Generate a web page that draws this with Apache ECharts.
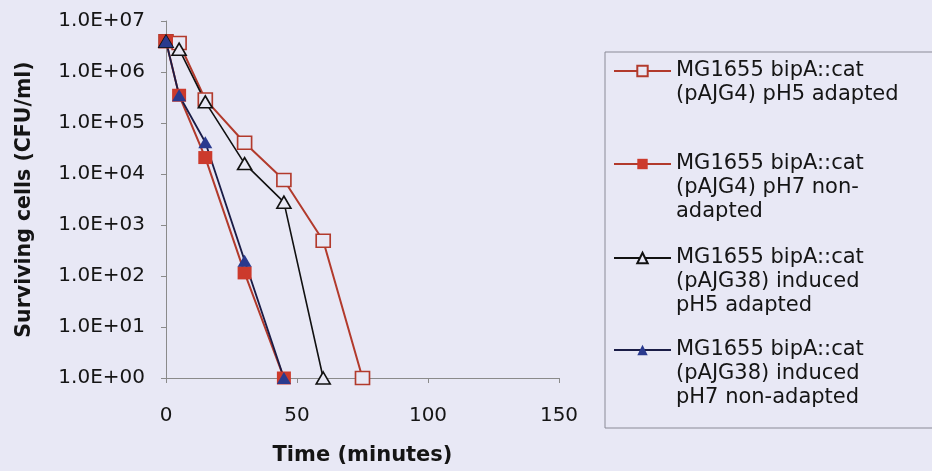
<!DOCTYPE html>
<html>
<head>
<meta charset="utf-8">
<script src="https://cdn.jsdelivr.net/npm/echarts@6/dist/echarts.min.js"></script>
<style>
  html, body { margin: 0; padding: 0; background: #e8e8f5; }
  #chart { width: 932px; height: 471px; }
</style>
</head>
<body>
<div id="chart"></div>
<script>
// ---- data ----
const timesS1 = [0, 5, 15, 30, 45, 60, 75];
const valuesS1 = [4.0e6, 3.7e6, 2.9e5, 4.1e4, 7.6e3, 4.9e2, 1];      // pAJG4 pH5 adapted (open square)
const timesS2 = [0, 5, 15, 30, 45];
const valuesS2 = [4.0e6, 3.5e5, 2.1e4, 1.15e2, 1];                   // pAJG4 pH7 non-adapted (filled square)
const timesS3 = [0, 5, 15, 30, 45, 60];
const valuesS3 = [4.0e6, 2.8e6, 2.6e5, 1.6e4, 2.8e3, 1];             // pAJG38 induced pH5 adapted (open triangle)
const timesS4 = [0, 5, 15, 30, 45];
const valuesS4 = [4.0e6, 3.5e5, 4.2e4, 2.0e2, 1];                    // pAJG38 induced pH7 non-adapted (filled triangle)

const seriesNames = [
  'MG1655 bipA::cat (pAJG4) pH5 adapted',
  'MG1655 bipA::cat (pAJG4) pH7 non-adapted',
  'MG1655 bipA::cat (pAJG38) induced pH5 adapted',
  'MG1655 bipA::cat (pAJG38) induced pH7 non-adapted'
];
const legendLines = [
  ['MG1655 bipA::cat', '(pAJG4) pH5 adapted'],
  ['MG1655 bipA::cat', '(pAJG4) pH7 non-', 'adapted'],
  ['MG1655 bipA::cat', '(pAJG38) induced', 'pH5 adapted'],
  ['MG1655 bipA::cat', '(pAJG38) induced', 'pH7 non-adapted']
];
const yTickLabels = ['1.0E+00', '1.0E+01', '1.0E+02', '1.0E+03', '1.0E+04', '1.0E+05', '1.0E+06', '1.0E+07'];
const xTicks = [0, 50, 100, 150];
const xTitle = 'Time (minutes)';
const yTitle = 'Surviving cells (CFU/ml)';

// ---- chart ----
const BG = '#e8e8f5';
const FONT = 'DejaVu Sans';
const RED = '#b23a2c';
const RED_FILL = '#cc3a2c';
const BLACK = '#111111';
const NAVY_LINE = '#1a1c46';
const NAVY_FILL = '#2a3a8e';

function pairs(ts, vs) { return ts.map((t, i) => [t, vs[i]]); }

const LH = 24;
const iconY = [71, 164, 258, 350];
function legendFor(i) {
  const blanks = legendLines[i].length - 1;   // blank lines above so the first line sits on the icon
  const nLines = blanks + legendLines[i].length;
  const txt = '\n'.repeat(blanks) + legendLines[i].join('\n');
  return {
    data: [seriesNames[i]],
    orient: 'vertical',
    left: 613,
    top: iconY[i] - nLines * LH / 2,
    padding: 0,
    itemWidth: 57,
    itemHeight: 13,
    selectedMode: false,
    formatter: () => txt,
    textStyle: { fontFamily: FONT, fontSize: 21, lineHeight: LH, color: '#151515' }
  };
}

const chart = echarts.init(document.getElementById('chart'), null, { renderer: 'canvas' });
chart.setOption({
  backgroundColor: BG,
  animation: false,
  grid: { left: 166, top: 21, width: 393, height: 357, containLabel: false },
  graphic: [{
    type: 'rect',
    shape: { x: 605, y: 52, width: 340, height: 376 },
    style: { fill: 'rgba(0,0,0,0)', stroke: '#8a8a96', lineWidth: 1 },
    silent: true, z: -1
  }],
  legend: [legendFor(0), legendFor(1), legendFor(2), legendFor(3)],
  xAxis: {
    type: 'value', min: 0, max: 150, interval: 50,
    name: xTitle, nameLocation: 'middle', nameGap: 67,
    nameTextStyle: { fontFamily: FONT, fontSize: 21, fontWeight: 'bold', color: '#151515' },
    axisLine: { show: true, lineStyle: { color: '#8a8a8a', width: 1 } },
    axisTick: { show: true, inside: false, length: 5, lineStyle: { color: '#8a8a8a' } },
    axisLabel: { margin: 28, fontFamily: FONT, fontSize: 20, color: '#151515',
      formatter: v => (xTicks.indexOf(v) >= 0 ? String(v) : '') },
    splitLine: { show: false }
  },
  yAxis: {
    type: 'log', logBase: 10, min: 1, max: 1e7, splitNumber: 7,
    name: yTitle, nameLocation: 'middle', nameGap: 131, nameRotate: 90,
    nameTextStyle: { fontFamily: FONT, fontSize: 20.5, fontWeight: 'bold', color: '#151515' },
    axisLine: { show: true, lineStyle: { color: '#8a8a8a', width: 1 } },
    axisTick: { show: true, inside: false, length: 5, lineStyle: { color: '#8a8a8a' } },
    axisLabel: { margin: 21, fontFamily: FONT, fontSize: 20, color: '#151515',
      formatter: v => yTickLabels[Math.round(Math.log10(v))] || '' },
    splitLine: { show: false }
  },
  series: [
    {
      name: seriesNames[0], type: 'line', data: pairs(timesS1, valuesS1),
      symbol: 'rect', symbolSize: [14, 13],
      lineStyle: { color: RED, width: 2 },
      itemStyle: { color: BG, borderColor: RED, borderWidth: 1.6 }
    },
    {
      name: seriesNames[1], type: 'line', data: pairs(timesS2, valuesS2),
      symbol: 'rect', symbolSize: [14, 13],
      lineStyle: { color: RED, width: 2 },
      itemStyle: { color: RED_FILL, borderColor: RED_FILL, borderWidth: 0 }
    },
    {
      name: seriesNames[2], type: 'line', data: pairs(timesS3, valuesS3),
      symbol: 'triangle', symbolSize: [14, 12],
      lineStyle: { color: BLACK, width: 1.6 },
      itemStyle: { color: BG, borderColor: BLACK, borderWidth: 1.6 }
    },
    {
      name: seriesNames[3], type: 'line', data: pairs(timesS4, valuesS4),
      symbol: 'triangle', symbolSize: [14, 12],
      lineStyle: { color: NAVY_LINE, width: 1.8 },
      itemStyle: { color: NAVY_FILL, borderColor: NAVY_FILL, borderWidth: 0 }
    }
  ]
});
</script>
</body>
</html>
